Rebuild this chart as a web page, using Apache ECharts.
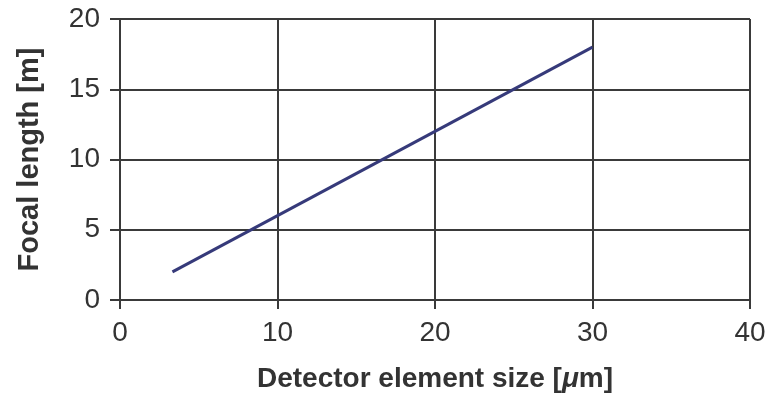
<!DOCTYPE html>
<html>
<head>
<meta charset="utf-8">
<script src="https://cdn.jsdelivr.net/npm/echarts@6/dist/echarts.min.js"></script>
<style>
  html, body { margin: 0; padding: 0; background: #fff; }
  #chart { width: 775px; height: 394px; }
</style>
</head>
<body>
<div id="chart"></div>
<script>
// Focal length required for a given detector element size
const detectorSize = [3.33, 30];   // µm
const focalLength = [2, 18];       // m
const xTicks = [0, 10, 20, 30, 40];
const yTicks = [0, 5, 10, 15, 20];

const axisColor = '#3a3a3a';
const textColor = '#333';
const font = '"Liberation Sans", Arial, Helvetica, sans-serif';

const titleStyle = {
  fontFamily: font, fontSize: 28, fontWeight: 'bold', color: textColor
};

const chart = echarts.init(document.getElementById('chart'), null, { renderer: 'canvas' });

chart.setOption({
  animation: false,
  grid: { left: 120, right: 25, top: 19, bottom: 94, outerBoundsMode: 'none', containLabel: false },
  xAxis: {
    type: 'value',
    min: xTicks[0],
    max: xTicks[xTicks.length - 1],
    interval: 10,
    name: 'Detector element size [{mu|μ}m]',
    nameLocation: 'middle',
    nameGap: 65,
    nameTextStyle: Object.assign({}, titleStyle, {
      rich: { mu: Object.assign({}, titleStyle, { fontStyle: 'italic' }) }
    }),
    axisLine: { show: true, lineStyle: { color: axisColor, width: 2 } },
    axisTick: { show: true, length: 9, lineStyle: { color: axisColor, width: 2 } },
    axisLabel: { fontFamily: font, fontSize: 28, color: textColor, margin: 19 },
    splitLine: { show: true, lineStyle: { color: axisColor, width: 2 } }
  },
  yAxis: {
    type: 'value',
    min: yTicks[0],
    max: yTicks[yTicks.length - 1],
    interval: 5,
    name: 'Focal length [m]',
    nameLocation: 'middle',
    nameGap: 76,
    nameTextStyle: Object.assign({}, titleStyle, { fontSize: 29 }),
    axisLine: { show: true, lineStyle: { color: axisColor, width: 2 } },
    axisTick: { show: true, length: 10, lineStyle: { color: axisColor, width: 2 } },
    axisLabel: { fontFamily: font, fontSize: 28, color: textColor, margin: 20 },
    splitLine: { show: true, lineStyle: { color: axisColor, width: 2 } }
  },
  series: [{
    type: 'line',
    data: detectorSize.map((x, i) => [x, focalLength[i]]),
    showSymbol: false,
    lineStyle: { color: '#363a7a', width: 3 }
  }]
});
</script>
</body>
</html>
